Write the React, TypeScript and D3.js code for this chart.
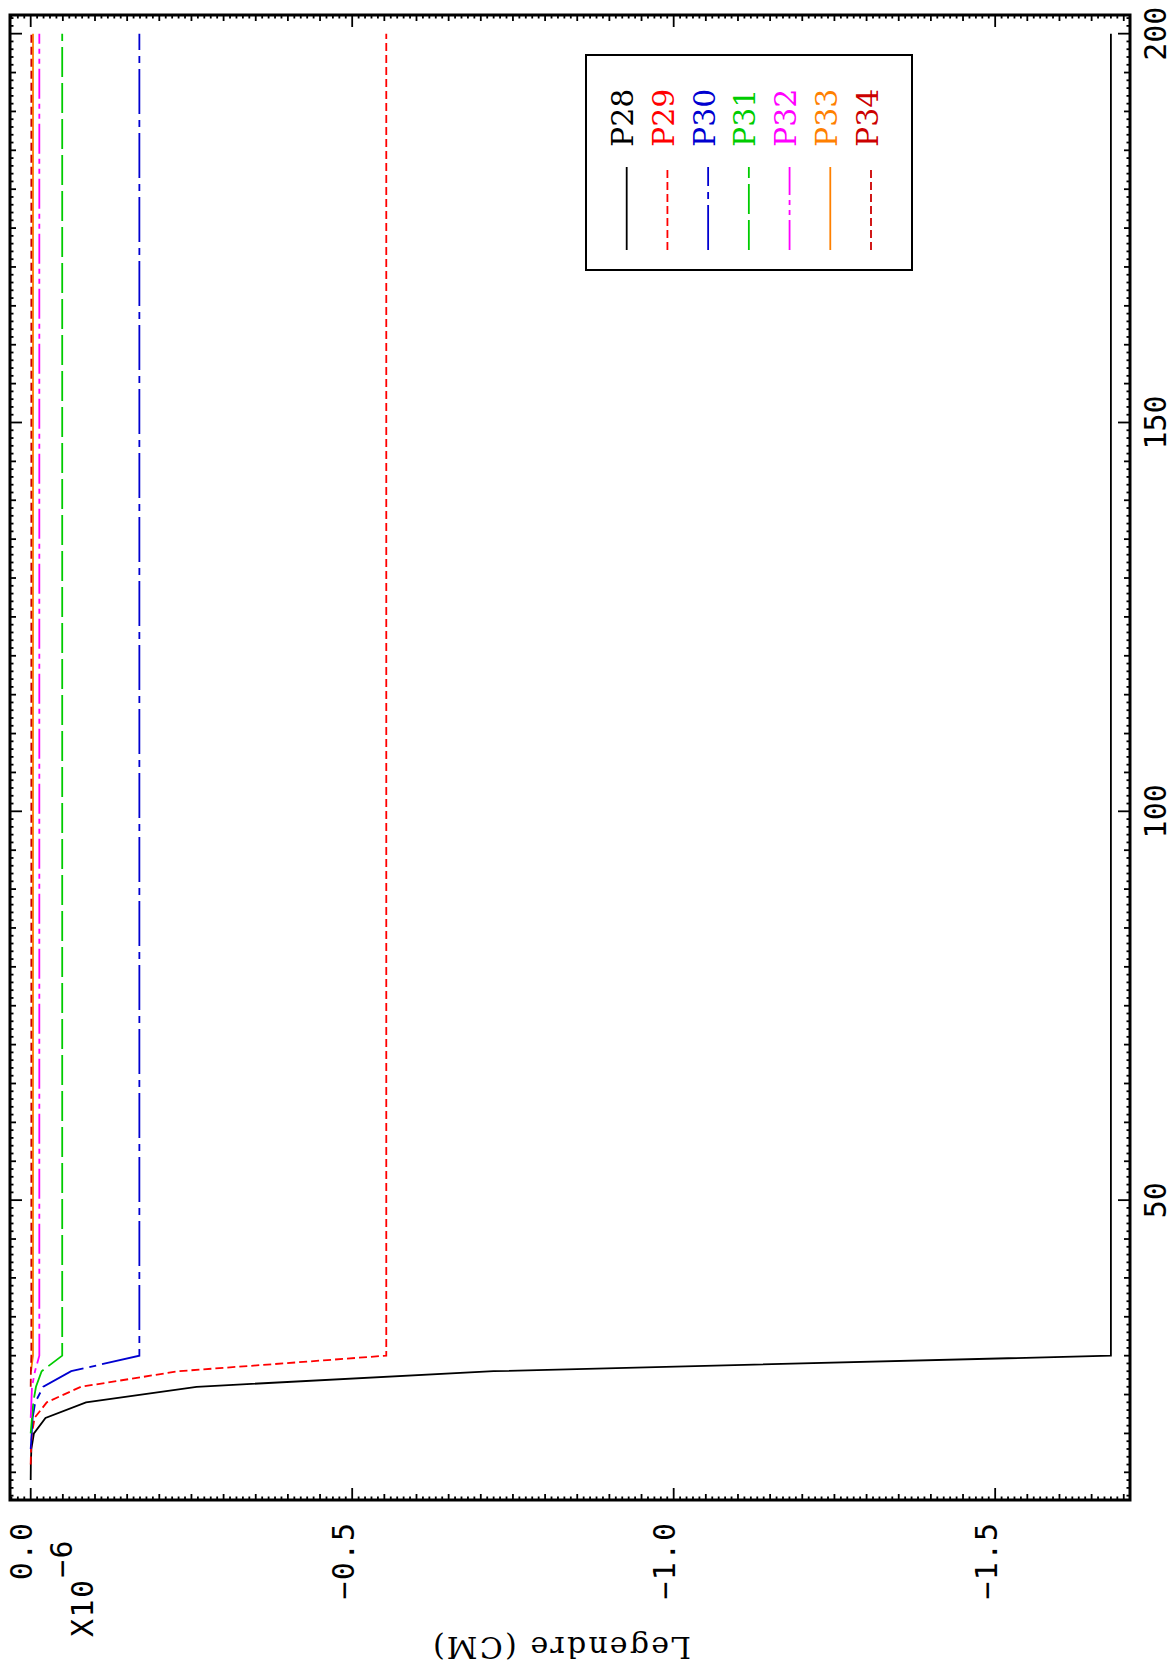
import React from 'react';
import * as d3 from 'd3';

// ---- data (x = distance, y = Legendre value x1e-6) ----
const X_VALUES = [14, 16, 18, 20, 22, 24, 26, 28, 30, 200];
const P28 = [0, -0.0002, -0.001, -0.005, -0.023, -0.086, -0.258, -0.72, -1.68, -1.68];
const P29 = [null, 0, -0.0005, -0.002, -0.006, -0.025, -0.078, -0.23, -0.553, -0.553];
const P30 = [null, null, 0, -0.0015, -0.003, -0.007, -0.0196, -0.063, -0.169, -0.169];
const P31 = [null, null, null, 0, -0.002, -0.004, -0.0082, -0.017, -0.049, -0.049];
const P32 = [null, null, null, null, 0, -0.001, -0.002, -0.0067, -0.0134, -0.0134];
const P33 = [null, null, null, null, null, null, null, -0.0005, -0.0036, -0.0036];
const P34 = [null, null, null, null, null, null, 0, -0.0003, -0.001, -0.001];

const SERIES_NAMES = ['P28', 'P29', 'P30', 'P31', 'P32', 'P33', 'P34'];
const SERIES_VALUES = [P28, P29, P30, P31, P32, P33, P34];
const SERIES_COLORS = ['#000000', '#ff0000', '#0000d0', '#00cc00', '#ff00ff', '#ff8000', '#cc0000'];
const SERIES_DASH = ['none', '8,4', '45,6,7,6', '30,6', '30,5,5,5,5,5', 'none', '8,4'];

const X_MAJOR_TICKS = [50, 100, 150, 200];
const X_TICK_LABELS = ['50', '100', '150', '200'];
const Y_MAJOR_TICKS = [0, -0.5, -1.0, -1.5];
const Y_TICK_LABELS = ['0.0', '\u22120.5', '\u22121.0', '\u22121.5'];
const Y_TITLE = 'Legendre (CM)';
const Y_MULT_BASE = 'X10';
const Y_MULT_EXP = '\u22126';

// ---- layout (unrotated frame: width 1664, height 1172; rotated -90 onto the page) ----
const PAGE_W = 1172;
const PAGE_H = 1664;
const PL = 164, PR = 1649, PT = 10, PB = 1130;

const xScale = d3.scaleLinear().domain([11.44, 202.4]).range([PL, PR]);
const yScale = d3.scaleLinear().domain([0.0322, -1.7097]).range([PT, PB]);

const xSmall = d3.range(12, 203, 1);
const ySmall = d3.range(-170, 4, 1);

export default function App() {
  const line = d3
    .line<[number, number | null]>()
    .defined((d) => d[1] !== null)
    .x((d) => xScale(d[0]))
    .y((d) => yScale(d[1] as number));

  const tickLen = (major: boolean, mid: boolean) => (major ? 12 : mid ? 6 : 3.5);

  const xTicks = xSmall.map((t) => {
    const major = t % 50 === 0;
    const mid = t % 5 === 0;
    const L = tickLen(major, mid);
    const u = xScale(t);
    return (
      <g key={'xt' + t}>
        <line x1={u} x2={u} y1={PB} y2={PB - L} />
        <line x1={u} x2={u} y1={PT} y2={PT + L} />
      </g>
    );
  });

  const yTicks = ySmall.map((i) => {
    const major = i % 50 === 0;
    const mid = i % 5 === 0;
    const L = tickLen(major, mid);
    const v = yScale(i / 100);
    return (
      <g key={'yt' + i}>
        <line x1={PL} x2={PL + L} y1={v} y2={v} />
        <line x1={PR} x2={PR - L} y1={v} y2={v} />
      </g>
    );
  });

  const legendU0 = 1394, legendU1 = 1609, legendV0 = 586, legendV1 = 912;
  const legendRow = d3.scalePoint<string>().domain(SERIES_NAMES).range([626.7, 871]);

  return (
    <svg
      width={PAGE_W}
      height={PAGE_H}
      style={{ position: 'absolute', left: 0, top: 0, background: '#fff' }}
    >
      <rect x={0} y={0} width={PAGE_W} height={PAGE_H} fill="#fff" />
      <g transform={`translate(0,${PAGE_H}) rotate(-90)`}>
        {/* data */}
        {SERIES_VALUES.map((vals, si) => (
          <path
            key={SERIES_NAMES[si]}
            d={line(X_VALUES.map((x, i) => [x, vals[i]] as [number, number | null])) || ''}
            fill="none"
            stroke={SERIES_COLORS[si]}
            strokeWidth={1.8}
            strokeDasharray={SERIES_DASH[si]}
          />
        ))}

        {/* frame and ticks */}
        <g stroke="#000" strokeWidth={1.8}>
          {xTicks}
          {yTicks}
        </g>
        <rect x={PL} y={PT} width={PR - PL} height={PB - PT} fill="none" stroke="#000" strokeWidth={3} />

        {/* tick labels */}
        <g fontFamily="'DejaVu Sans Mono', monospace" fontSize={30} fill="#000">
          {X_MAJOR_TICKS.map((t, i) => (
            <text key={'xl' + t} x={xScale(t)} y={1166} textAnchor="middle">
              {X_TICK_LABELS[i]}
            </text>
          ))}
          {Y_MAJOR_TICKS.map((t, i) => (
            <text key={'yl' + t} x={142.5} y={yScale(t) + 1.5} textAnchor="end" letterSpacing={1.5}>
              {Y_TICK_LABELS[i]}
            </text>
          ))}
          <text x={27} y={93} letterSpacing={1.5}>
            {Y_MULT_BASE}
          </text>
          <text x={86} y={72} letterSpacing={1.5}>
            {Y_MULT_EXP}
          </text>
        </g>

        {/* y title */}
        <text
          x={27}
          y={562}
          transform="rotate(-90,27,562)"
          textAnchor="middle"
          fontFamily="'DejaVu Serif', serif"
          fontSize={30}
          textLength={258}
          lengthAdjust="spacing"
          fill="#000"
        >
          {Y_TITLE}
        </text>

        {/* legend */}
        <rect
          x={legendU0}
          y={legendV0}
          width={legendU1 - legendU0}
          height={legendV1 - legendV0}
          fill="#fff"
          stroke="#000"
          strokeWidth={2}
        />
        {SERIES_NAMES.map((name, si) => {
          const v = legendRow(name) as number;
          return (
            <g key={'lg' + name}>
              <line
                x1={1414}
                x2={1497}
                y1={v}
                y2={v}
                stroke={SERIES_COLORS[si]}
                strokeWidth={1.8}
                strokeDasharray={SERIES_DASH[si]}
              />
              <text
                x={1517}
                y={v + 6.5}
                fontFamily="'DejaVu Serif', serif"
                fontSize={30}
                fill={SERIES_COLORS[si]}
              >
                {name}
              </text>
            </g>
          );
        })}
      </g>
    </svg>
  );
}
